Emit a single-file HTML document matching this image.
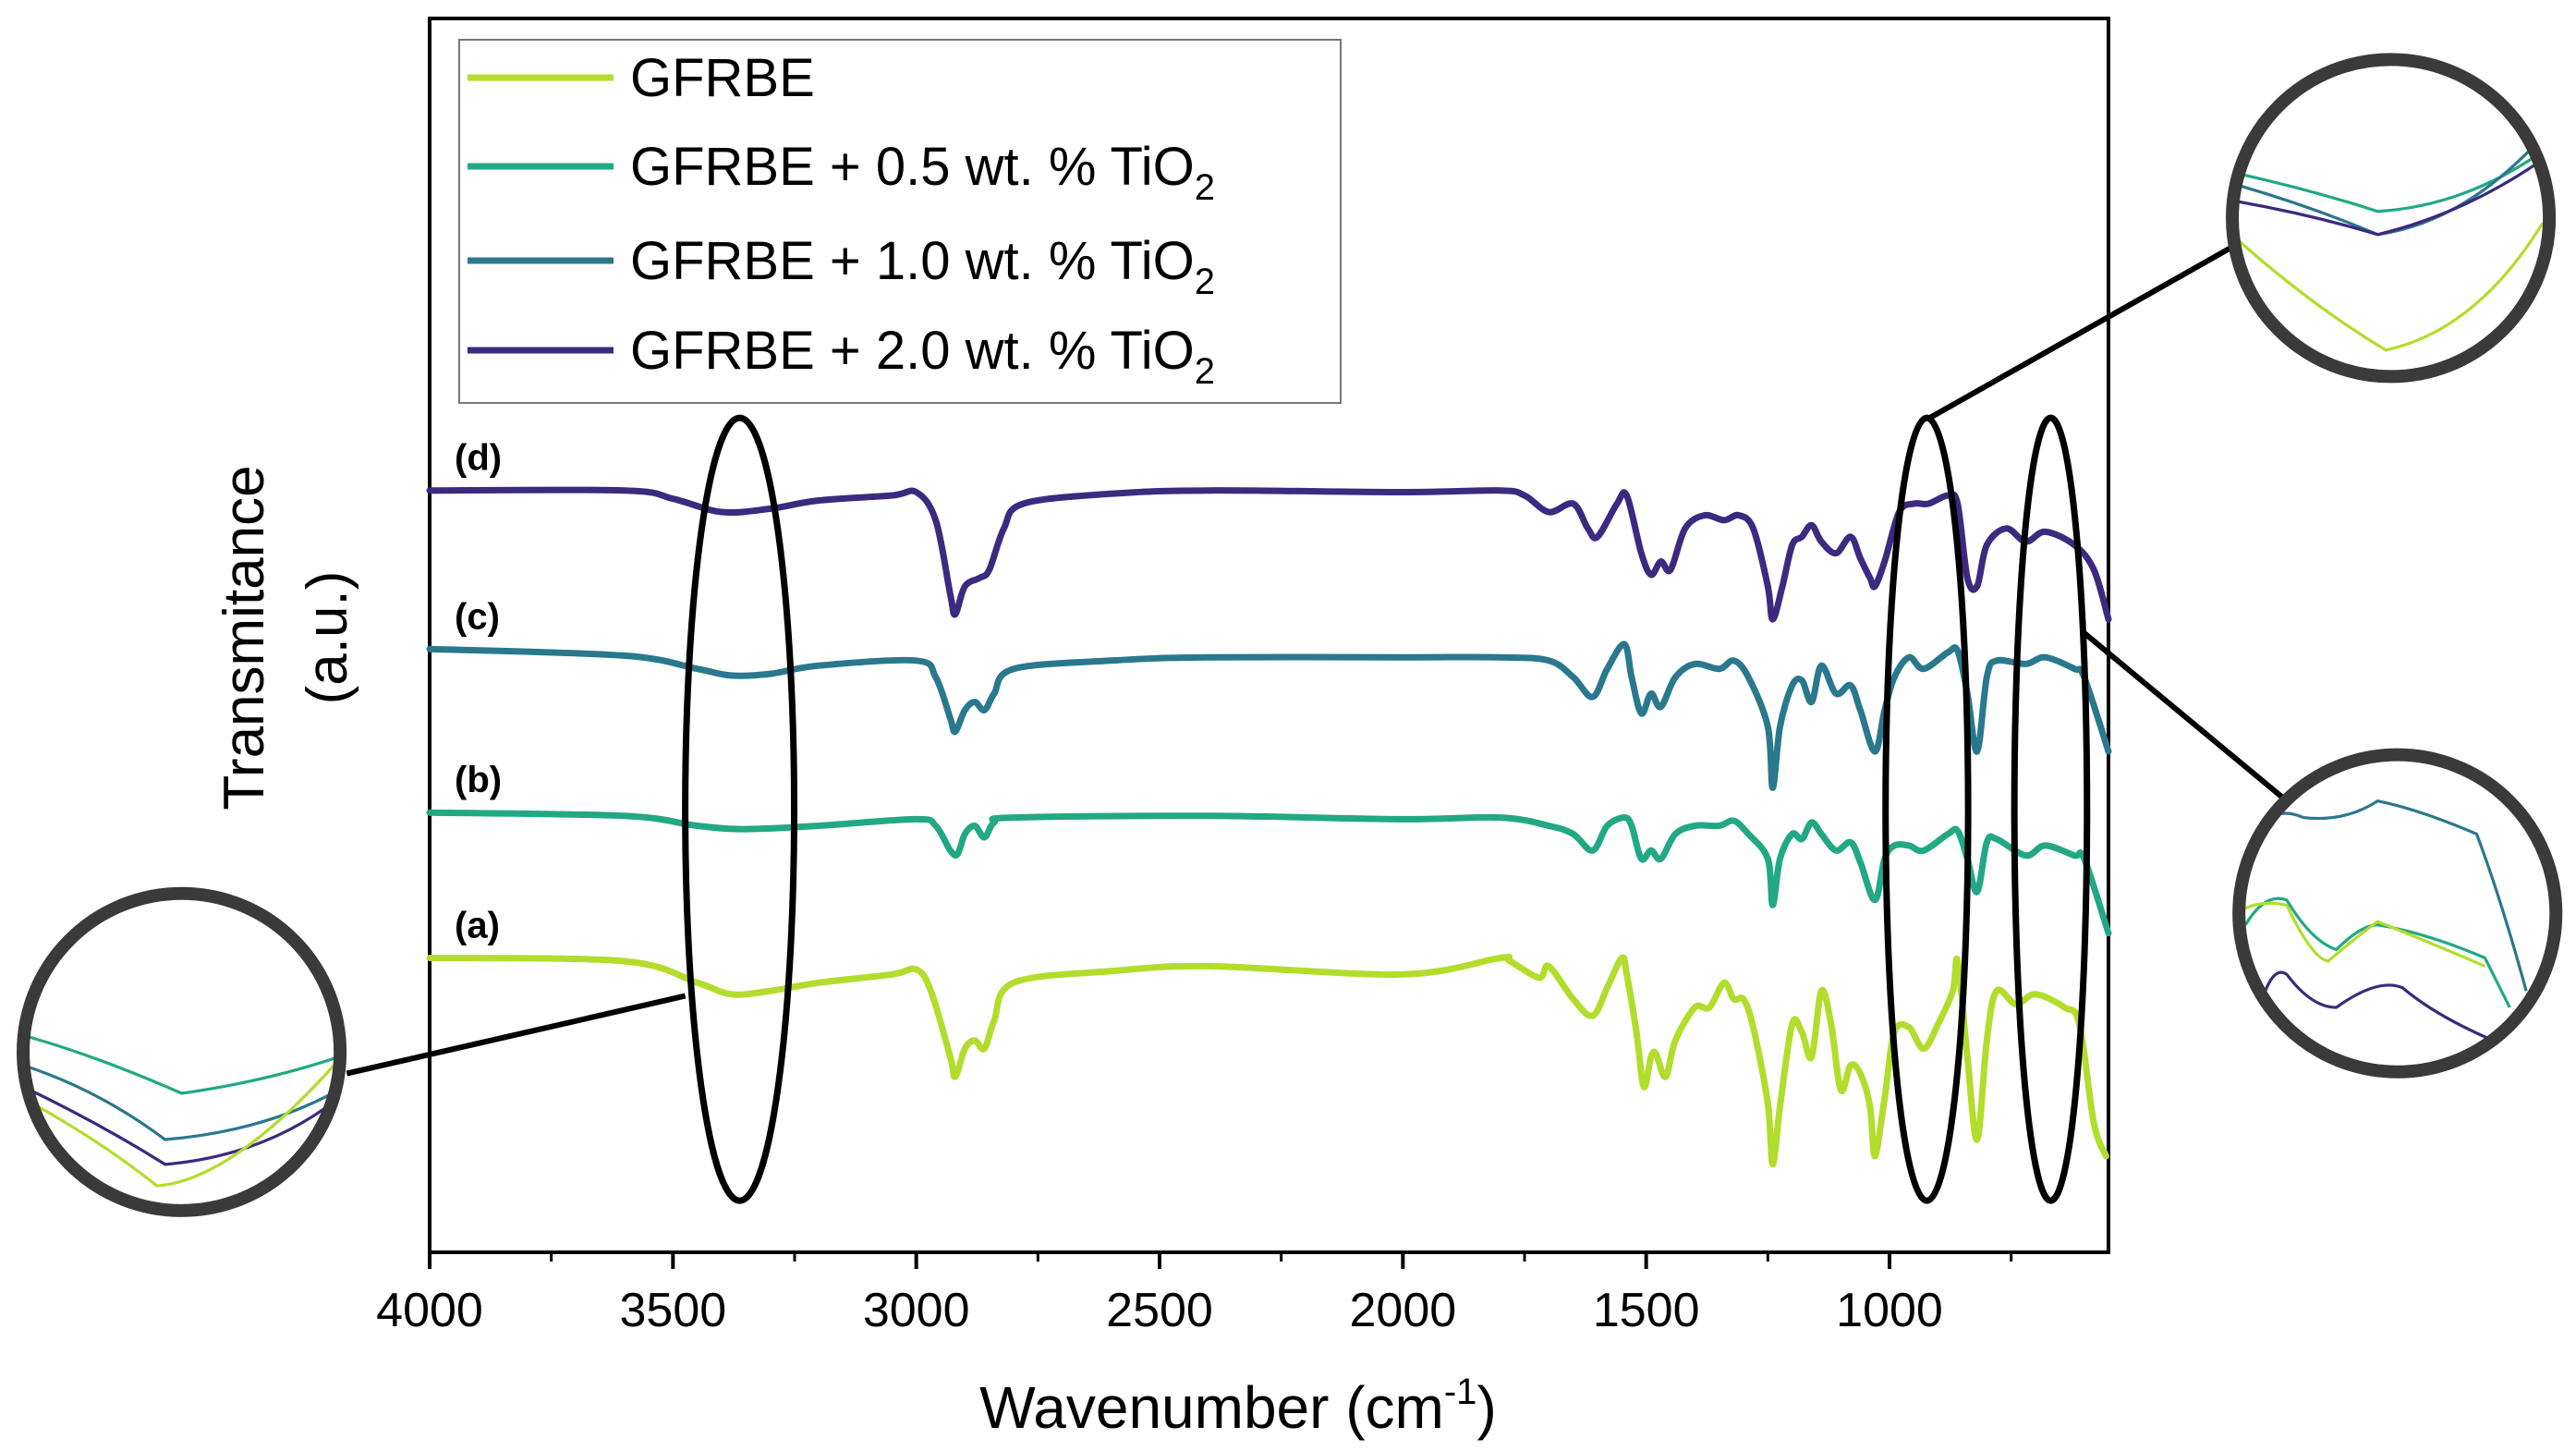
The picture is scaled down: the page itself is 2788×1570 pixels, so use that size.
<!DOCTYPE html>
<html><head><meta charset="utf-8"><style>
html,body{margin:0;padding:0;background:#fff;}
svg{display:block;font-family:"Liberation Sans",sans-serif;}
</style></head><body>
<svg id="chart" width="2788" height="1570" viewBox="0 0 2788 1570" xmlns="http://www.w3.org/2000/svg">
<g id="plot"></g>
</svg>
<script>
// ---- data (wavenumber cm-1, transmittance a.u.) ----
const xTicks = [4000,3500,3000,2500,2000,1500,1000];
const xMinor = [3750,3250,2750,2250,1750,1250,750];
const seriesNames = ["GFRBE","GFRBE + 0.5 wt. % TiO","GFRBE + 1.0 wt. % TiO","GFRBE + 2.0 wt. % TiO"];
const curveLabels = ["(a)","(b)","(c)","(d)"];
const waveA = [4000,3600,3450,3380,3300,3200,3050,3000,2970,2930,2920,2900,2880,2860,2840,2800,2600,2400,2000,1800,1780,1720,1700,1650,1610,1580,1550,1540,1520,1505,1490,1480,1460,1440,1400,1370,1340,1320,1300,1280,1250,1240,1225,1200,1180,1160,1140,1120,1100,1080,1060,1040,1030,1010,990,960,930,900,870,860,840,820,800,780,740,700,640,610,580,555];
const transA = [580,582,595,602,600,595,590,587,600,640,652,635,630,635,618,595,588,585,590,580,582,592,585,605,615,598,580,590,625,658,640,638,652,630,610,610,595,605,605,622,668,705,670,620,625,640,600,620,660,645,650,670,700,665,625,622,635,620,600,582,640,690,630,600,608,602,610,620,680,700];
const waveB = [4000,3600,3450,3350,3200,3000,2960,2930,2915,2900,2880,2860,2840,2800,2400,2000,1800,1700,1650,1610,1580,1545,1530,1510,1490,1470,1440,1400,1350,1320,1290,1250,1240,1225,1200,1180,1160,1140,1110,1080,1060,1030,1010,990,960,930,880,860,840,820,800,780,720,680,620,600,550];
const transB = [492,494,500,502,500,496,500,515,517,505,500,507,498,495,494,496,495,500,505,515,500,495,500,520,515,520,505,500,500,497,505,520,548,520,505,508,498,505,515,510,522,545,520,512,512,515,505,503,520,540,510,508,518,512,518,520,565];
const waveC = [4000,3600,3450,3380,3300,3200,3000,2960,2930,2920,2900,2880,2860,2840,2800,2600,2400,2000,1800,1700,1650,1610,1580,1545,1530,1510,1490,1470,1440,1400,1350,1320,1290,1250,1240,1225,1200,1180,1160,1140,1110,1080,1060,1030,1010,990,960,930,880,860,840,820,800,780,720,680,620,600,550];
const transC = [393,397,405,409,408,403,400,410,435,443,430,425,430,420,405,400,398,398,398,400,410,422,405,390,410,432,420,428,410,402,405,400,410,440,477,440,415,412,425,403,420,415,430,455,430,410,398,405,395,394,420,455,410,400,402,398,405,410,455];
const waveD = [4000,3600,3500,3400,3300,3200,3050,3000,2960,2930,2920,2900,2870,2850,2820,2780,2600,2400,2000,1800,1750,1700,1650,1620,1600,1560,1540,1510,1490,1470,1450,1420,1380,1340,1310,1280,1250,1240,1220,1200,1180,1160,1140,1110,1080,1060,1040,1030,1010,980,950,920,880,860,840,820,800,760,720,680,620,580,550];
const transD = [297,297,302,310,308,303,300,298,315,360,372,355,350,345,320,305,299,297,298,297,300,310,305,320,325,305,300,335,348,340,345,320,312,315,312,320,355,375,355,330,325,318,328,335,325,338,350,355,340,310,305,305,300,305,350,355,330,320,328,322,330,345,375];
// note: transmittance values are in inverted display units (larger = lower on the chart)
const colors = ["#b2dd2c","#22a884","#2a788e","#3b2a7f"];

const NS = "http://www.w3.org/2000/svg";
const S = 1.787;
const L = 465, R = 2282, T = 20, B = 1355;
const X0 = 4000, X1 = 550;
function xs(w){ return L + (X0 - w) / (X0 - X1) * (R - L); }
function ys(v){ return v * S; }
const plot = document.getElementById('plot');
function mk(tag, attrs, parent){
  const e = document.createElementNS(NS, tag);
  for (const k in attrs) e.setAttribute(k, attrs[k]);
  (parent || plot).appendChild(e);
  return e;
}
function smoothPath(pts){
  let d = 'M' + pts[0][0].toFixed(1) + ' ' + pts[0][1].toFixed(1);
  for (let i=0;i<pts.length-1;i++){
    const p0 = pts[Math.max(0,i-1)], p1 = pts[i], p2 = pts[i+1], p3 = pts[Math.min(pts.length-1,i+2)];
    const c1x = p1[0] + (p2[0]-p0[0])/6, c1y = p1[1] + (p2[1]-p0[1])/6;
    const c2x = p2[0] - (p3[0]-p1[0])/6, c2y = p2[1] - (p3[1]-p1[1])/6;
    d += 'C'+c1x.toFixed(1)+' '+c1y.toFixed(1)+' '+c2x.toFixed(1)+' '+c2y.toFixed(1)+' '+p2[0].toFixed(1)+' '+p2[1].toFixed(1);
  }
  return d;
}

// frame
const frame = mk('rect',{x:L,y:T,width:R-L,height:B-T,fill:'none',stroke:'#000','stroke-width':4});



// ticks
xTicks.forEach(t=>{
  const x = xs(t);
  const tk = mk('line',{x1:x,x2:x,y1:B,y2:B+18,stroke:'#000','stroke-width':4});
  
  
  const lb = mk('text',{x:x,y:B+80,'text-anchor':'middle','font-size':52,fill:'#000'});
  lb.textContent = t;
  
  
});
xMinor.forEach(t=>{
  const x = xs(t);
  const tk = mk('line',{x1:x,x2:x,y1:B,y2:B+10,stroke:'#000','stroke-width':3});
  
  
});

// axis titles
const xt = mk('text',{x:1340,y:1545,'text-anchor':'middle','font-size':64,fill:'#000'});
xt.innerHTML = 'Wavenumber (cm<tspan dy="-26" font-size="40">-1</tspan><tspan dy="26">)</tspan>';


const yt1 = mk('text',{x:0,y:0,'text-anchor':'middle','font-size':62,fill:'#000',transform:'translate(285,690) rotate(-90)'});
yt1.textContent = 'Transmitance';


const yt2 = mk('text',{x:0,y:0,'text-anchor':'middle','font-size':62,fill:'#000',transform:'translate(375,690) rotate(-90)'});
yt2.textContent = '(a.u.)';



// curves
const waves = [waveA,waveB,waveC,waveD];
const trans = [transA,transB,transC,transD];
const names = ['series-gfrbe','series-0-5-tio2','series-1-0-tio2','series-2-0-tio2'];
waves.forEach((w,i)=>{
  const pts = w.map((wn,j)=>[xs(wn), ys(trans[i][j])]);
  const p = mk('path',{d:smoothPath(pts),fill:'none',stroke:colors[i],'stroke-width':7,'stroke-linejoin':'round','stroke-linecap':'round'});
  
  
  const lb = mk('text',{x:492,y:ys(trans[i][0])-22,'font-size':40,'font-weight':'bold',fill:'#000'});
  lb.textContent = curveLabels[i];
  
  
});

// legend
const lg = mk('g',{});


mk('rect',{x:497,y:43,width:954,height:393,fill:'#fff',stroke:'#777','stroke-width':2},lg);
const legY = [84,180,282,379];
seriesNames.forEach((n,i)=>{
  const ln = mk('line',{x1:506,x2:664,y1:legY[i],y2:legY[i],stroke:colors[i],'stroke-width':7},lg);
  
  
  const tx = mk('text',{x:682,y:legY[i]+20,'font-size':58,fill:'#000'},lg);
  tx.textContent = n;
  if (i>0){ const s = mk('tspan',{dy:16,'font-size':40},tx); s.textContent='2'; }
  
  
});

// annotation ellipses
[[448,33],[1167,25],[1242,22]].forEach(e=>{
  const el = mk('ellipse',{cx:e[0]*S,cy:490*S,rx:e[1]*S,ry:237*S,fill:'none',stroke:'#000','stroke-width':7});
  
  
});
// connector lines
[[210,650,415,603],[1167,254,1360,145],[1262,383,1385,485]].forEach(l=>{
  const ln = mk('line',{x1:l[0]*S,y1:l[1]*S,x2:l[2]*S,y2:l[3]*S,stroke:'#000','stroke-width':6});
  
  
});
// zoom circles with inset sketches
const insets = [
  {c:[110,637], name:'inset-oh-region', paths:[
    ['#22a884','M18 628 Q60 640 110 662 Q160 655 205 640'],
    ['#2a788e','M14 645 Q60 660 100 690 Q160 685 205 660'],
    ['#3b2a7f','M14 658 Q60 680 100 705 Q160 700 205 665'],
    ['#b2dd2c','M14 665 Q60 690 95 718 Q140 715 205 642']]},
  {c:[1448,132], name:'inset-900-region', paths:[
    ['#22a884','M1355 105 Q1400 115 1440 128 Q1490 125 1535 95'],
    ['#2a788e','M1355 112 Q1400 125 1440 142 Q1490 135 1535 88'],
    ['#3b2a7f','M1355 122 Q1400 130 1440 142 Q1490 130 1535 100'],
    ['#b2dd2c','M1355 145 Q1400 185 1445 212 Q1500 200 1540 135']]},
  {c:[1452,553], name:'inset-700-region', paths:[
    ['#2a788e','M1365 500 Q1380 488 1395 495 Q1420 498 1440 485 Q1465 490 1500 505 Q1515 545 1530 600'],
    ['#22a884','M1360 560 Q1372 540 1385 545 Q1400 570 1415 575 Q1430 560 1440 560 Q1470 565 1505 580 L1520 610'],
    ['#b2dd2c','M1360 550 Q1370 545 1385 548 Q1400 580 1410 582 Q1430 565 1440 558 Q1470 570 1505 585'],
    ['#3b2a7f','M1372 600 Q1378 585 1385 590 Q1400 610 1415 610 Q1440 592 1455 598 Q1475 615 1510 630']]}
];
insets.forEach((ins,k)=>{
  const g = mk('g',{});
  
  
  const cp = mk('clipPath',{id:'clip'+k},g);
  mk('circle',{cx:ins.c[0],cy:ins.c[1],r:96},cp);
  mk('circle',{cx:ins.c[0]*S,cy:ins.c[1]*S,r:96*S,fill:'#fff'},g);
  const inner = mk('g',{transform:'scale('+S+')'},g);
  const clipped = mk('g',{'clip-path':'url(#clip'+k+')'},inner);
  ins.paths.forEach(p=>{ mk('path',{d:p[1],fill:'none',stroke:p[0],'stroke-width':1.8},clipped); });
  mk('circle',{cx:ins.c[0]*S,cy:ins.c[1]*S,r:96*S,fill:'none',stroke:'#3a3a3a','stroke-width':14},g);
});
</script>
</body></html>
